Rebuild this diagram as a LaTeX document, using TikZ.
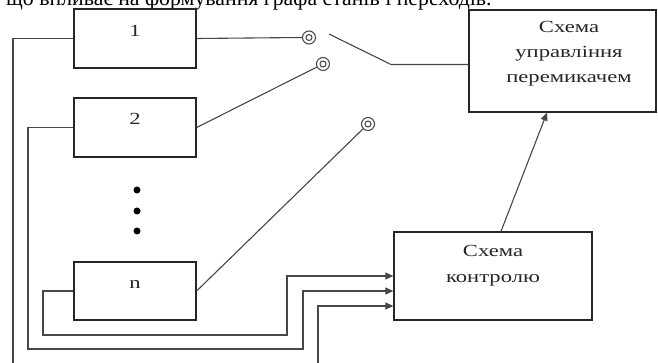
\documentclass[tikz,border=0pt]{standalone}
\usepackage{fontspec}
\setmainfont{Liberation Serif}
\newfontfamily\boxfont[FakeStretch=1.33]{Liberation Serif}
\usetikzlibrary{arrows.meta,calc}
\tikzset{
  blk/.style={draw=black!85, line width=1.3pt, rectangle, inner sep=0pt},
  wire/.style={draw=black!72, line width=1.1pt},
  arr/.style={wire, -{Triangle[length=8pt,width=7pt]}},
  term/.style={circle, draw=black!70, line width=1.1pt, minimum size=13pt, inner sep=0pt},
  lbl/.style={anchor=base, inner sep=0pt, text=black!85, font=\boxfont\fontsize{17}{20}\selectfont},
  dotn/.style={circle, fill=black, minimum size=7pt, inner sep=0pt},
}
\begin{document}
\begin{tikzpicture}[x=1pt, y=-1pt]
\useasboundingbox (0,0) rectangle (658,363);
\clip (0,0) rectangle (658,363);
% caption line (cut at top)
\node[anchor=base west, inner sep=0pt, font=\fontsize{21.8}{26}\selectfont] (cap) at (6,6) {що впливає на формування графа станів і переходів.};
% blocks
\node[blk, minimum width=122pt, minimum height=59pt] (b1) at (135,38.5) {};
\node[blk, minimum width=122pt, minimum height=59pt] (b2) at (135,127.5) {};
\node[blk, minimum width=122pt, minimum height=58pt] (bn) at (135,291) {};
\node[blk, minimum width=187pt, minimum height=102pt] (sw) at (562.5,61) {};
\node[blk, minimum width=198pt, minimum height=88pt] (ctl) at (493,276) {};
% labels
\node[lbl] (l1) at (135,37) {1};
\node[lbl] (l2) at (135,125) {2};
\node[lbl] (ln) at (135,288) {n};
\node[lbl] (s1) at (569,33) {Схема};
\node[lbl] (s2) at (569,58) {управління};
\node[lbl] (s3) at (569,83) {перемикачем};
\node[lbl] (c1) at (493,257) {Схема};
\node[lbl] (c2) at (493,282) {контролю};
% dots
\node[dotn] (d1) at (137,190) {};
\node[dotn] (d2) at (137,211) {};
\node[dotn] (d3) at (137,231) {};
% terminals
\node[term] (t1) at (309,37.5) {};
\node[term] (t2) at (323,64) {};
\node[term] (t3) at (368,124) {};
\foreach \t in {t1,t2,t3} \draw[black!70, line width=1.1pt] (\t) circle[radius=3pt];
% switch lever
\coordinate (lev) at (329,34);
\coordinate (piv) at (391,64.5);
\draw[wire] (lev) -- (piv) -- (piv -| sw.west);
% block outputs to terminals
\draw[wire] (b1.east) -- (t1.west);
\draw[wire] (b2.east) -- (t2);
\draw[wire] (bn.east) -- (t3);
% feedback lines into control
\coordinate (bot1) at (13,370);
\coordinate (bot2) at (318,370);
\draw[wire] (b1.west) -| (bot1);
\draw[arr] (bot2) |- ($(ctl.west)+(0,30)$);
\draw[arr] (b2.west) -- (28,127.5) -- (28,349) -- (303,349) |- ($(ctl.west)+(0,15)$);
\draw[arr] (bn.west) -- (43,291) -- (43,335) -- (287,335) |- (ctl.west);
% control to switch driver
\draw[arr] ($(ctl.north)+(8,0)$) -- ($(sw.south)+(-15.5,0)$);
\end{tikzpicture}
\end{document}
